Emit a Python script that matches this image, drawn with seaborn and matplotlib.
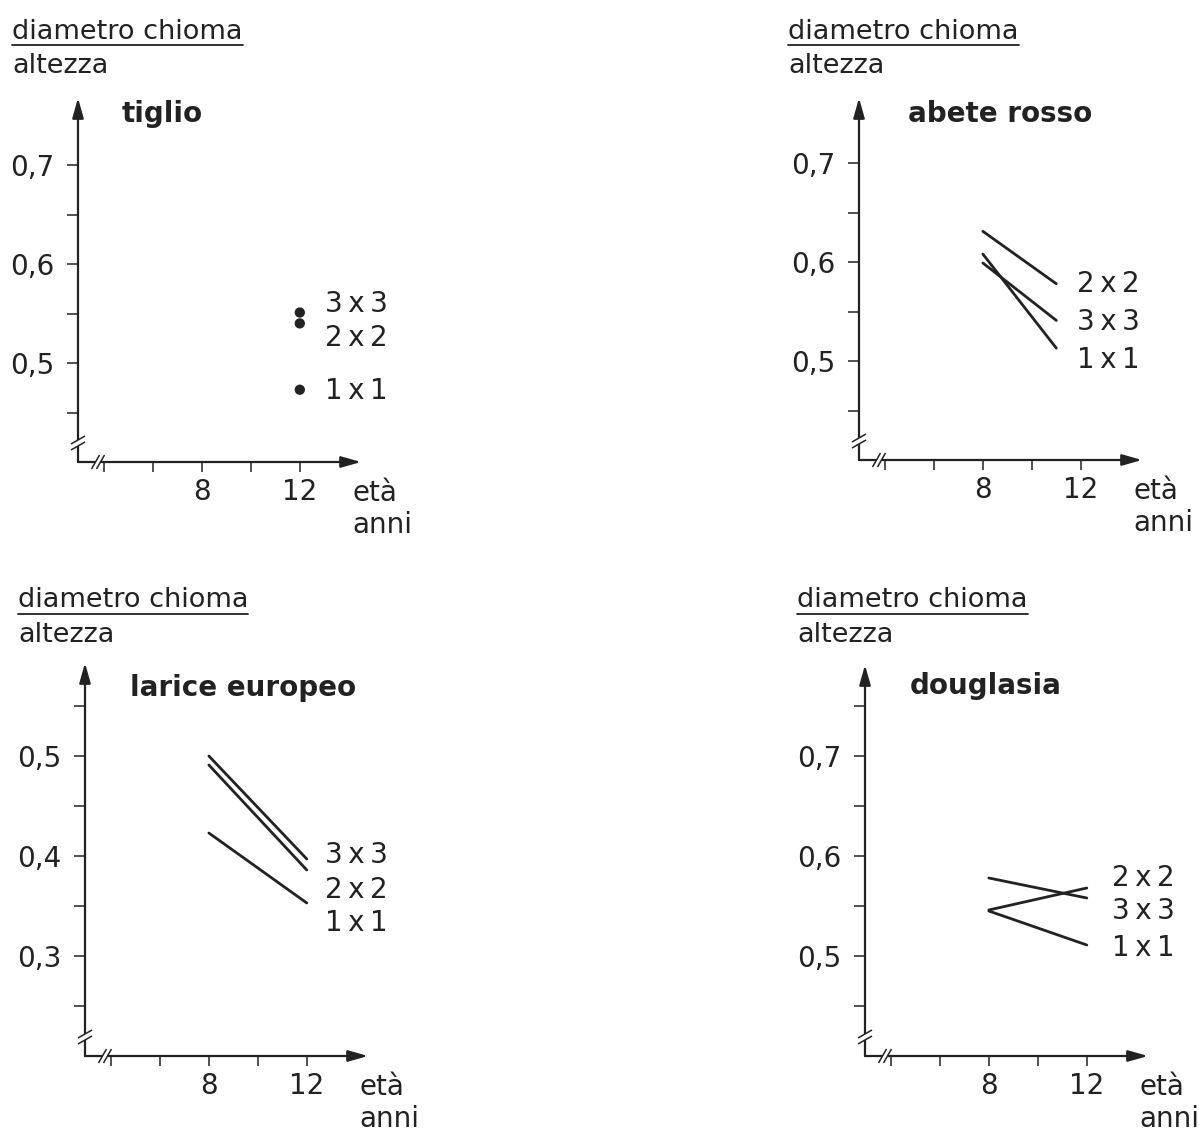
import matplotlib

matplotlib.use("Agg")
import matplotlib.pyplot as plt
import numpy as np
import pandas as pd
import seaborn as sns
from matplotlib.lines import Line2D

W, H, DPI = 1199, 1131, 100

# ----------------------------------------------------------------------------- data
TIGLIO_ETA = [12, 12, 12]
TIGLIO_SPACING = ["3x3", "2x2", "1x1"]
TIGLIO_RATIO = [0.551, 0.540, 0.473]

ABETE_ETA = [8, 11, 8, 11, 8, 11]
ABETE_SPACING = ["2x2", "2x2", "3x3", "3x3", "1x1", "1x1"]
ABETE_RATIO = [0.631, 0.578, 0.599, 0.541, 0.608, 0.513]

LARICE_ETA = [8, 12, 8, 12, 8, 12]
LARICE_SPACING = ["3x3", "3x3", "2x2", "2x2", "1x1", "1x1"]
LARICE_RATIO = [0.500, 0.397, 0.491, 0.386, 0.423, 0.353]

DOUGLASIA_ETA = [8, 12, 8, 12, 8, 12]
DOUGLASIA_SPACING = ["3x3", "3x3", "2x2", "2x2", "1x1", "1x1"]
DOUGLASIA_RATIO = [0.578, 0.558, 0.546, 0.568, 0.545, 0.511]

X_TICKS = [4, 6, 8, 10, 12]
X_TICK_LABELS = ["", "", "8", "", "12"]

HEADER = "diametro chioma"
HEADER_BELOW = "altezza"

# ----------------------------------------------------------------------------- layout (pixels)
XLIM = (2.94, 14.5)
BOX_W = 283
PANELS = [
    dict(title="tiglio", kind="scatter", eta=TIGLIO_ETA, spacing=TIGLIO_SPACING, ratio=TIGLIO_RATIO,
         left=78, top=98, bottom=462, y0=0.4, ppu=990, yticks=(0.45, 0.70),
         head=(12, 39, 45), title_xy=(122, 122),
         lab_x=13.02, labels=[("3x3", 0.563), ("2x2", 0.528), ("1x1", 0.475)]),
    dict(title="abete rosso", kind="line", eta=ABETE_ETA, spacing=ABETE_SPACING, ratio=ABETE_RATIO,
         left=859, top=98, bottom=460, y0=0.4, ppu=990, yticks=(0.45, 0.70),
         head=(788, 39, 45), title_xy=(908, 122),
         lab_x=11.84, labels=[("2x2", 0.581), ("3x3", 0.542), ("1x1", 0.504)]),
    dict(title="larice europeo", kind="line", eta=LARICE_ETA, spacing=LARICE_SPACING, ratio=LARICE_RATIO,
         left=85, top=663, bottom=1056, y0=0.2, ppu=1000, yticks=(0.25, 0.55),
         head=(18, 607, 614), title_xy=(130, 696),
         lab_x=12.74, labels=[("3x3", 0.404), ("2x2", 0.369), ("1x1", 0.336)]),
    dict(title="douglasia", kind="line", eta=DOUGLASIA_ETA, spacing=DOUGLASIA_SPACING, ratio=DOUGLASIA_RATIO,
         left=865, top=665, bottom=1056, y0=0.4, ppu=1000, yticks=(0.45, 0.75),
         head=(797, 607, 614), title_xy=(910, 694),
         lab_x=13.02, labels=[("2x2", 0.581), ("3x3", 0.548), ("1x1", 0.511)]),
]

sns.set_theme(style="ticks")
plt.rcParams["font.family"] = ["DejaVu Sans"]

FS_NUM = 20
FS_HEAD = 19.5
FS_TITLE = 20
LW = 1.6
INK = "#222222"


def fig_text(fig, x, y, s, **kw):
    """Place text at figure pixel coords (origin top-left)."""
    return fig.text(x / W, 1 - y / H, s, **kw)


def pretty(label):
    return label.replace("x", "\u2009x\u2009")


def draw_axes_frame(ax, bw, bh):
    arrow = dict(arrowstyle="-|>,head_length=0.6,head_width=0.17", color=INK, lw=LW,
                 shrinkA=0, shrinkB=0, mutation_scale=20)
    ax.annotate("", xy=(0, 1), xytext=(0, 0), xycoords="axes fraction", arrowprops=arrow)
    ax.annotate("", xy=(1, 0), xytext=(0, 0), xycoords="axes fraction", arrowprops=arrow)
    kw = dict(transform=ax.transAxes, clip_on=False, solid_capstyle="butt")
    # break on the y axis
    yb = 19 / bh
    ax.plot([0, 0], [yb - 3 / bh, yb + 3 / bh], color="white", lw=3, zorder=5, **kw)
    for d in (-3, 3):
        ax.plot([-7 / bw, 7 / bw], [yb + (d - 4) / bh, yb + (d + 4) / bh], color=INK, lw=1.1, zorder=6, **kw)
    # break on the x axis
    xb = 20 / bw
    ax.plot([xb - 3 / bw, xb + 3 / bw], [0, 0], color="white", lw=3, zorder=5, **kw)
    for d in (-2.5, 2.5):
        ax.plot([xb + (d - 4) / bw, xb + (d + 4) / bw], [-7 / bh, 7 / bh], color=INK, lw=1.1, zorder=6, **kw)


fig = plt.figure(figsize=(W / DPI, H / DPI), dpi=DPI)
fig.patch.set_facecolor("white")

underlines = []
for p in PANELS:
    bh = p["bottom"] - p["top"]
    ax = fig.add_axes([p["left"] / W, 1 - p["bottom"] / H, BOX_W / W, bh / H])
    ax.set_facecolor("none")
    df = pd.DataFrame({"eta": p["eta"], "spacing": p["spacing"], "ratio": p["ratio"]})
    if p["kind"] == "scatter":
        sns.scatterplot(data=df, x="eta", y="ratio", color=INK, s=55, edgecolor="none",
                        legend=False, ax=ax, clip_on=False)
    else:
        sns.lineplot(data=df, x="eta", y="ratio", hue="spacing",
                     palette={s: INK for s in df["spacing"].unique()},
                     estimator=None, lw=LW * 1.25, legend=False, ax=ax)
    ax.set_xlim(*XLIM)
    ax.set_ylim(p["y0"], p["y0"] + bh / p["ppu"])
    ax.set_xlabel("")
    ax.set_ylabel("")
    for sp in ax.spines.values():
        sp.set_visible(False)

    lo, hi = p["yticks"]
    yt = np.round(np.arange(lo, hi + 0.001, 0.05), 2)
    ax.set_yticks(yt)
    ax.set_yticklabels([f"{v:.1f}".replace(".", ",") if round(v * 100) % 10 == 0 else "" for v in yt])
    ax.set_xticks(X_TICKS)
    ax.set_xticklabels(X_TICK_LABELS)
    ax.tick_params(axis="y", direction="out", length=8, width=1.1, color=INK, pad=9,
                   labelsize=FS_NUM, labelcolor=INK)
    ax.tick_params(axis="x", direction="out", length=7.5, width=1.1, color=INK, pad=4,
                   labelsize=FS_NUM, labelcolor=INK)

    draw_axes_frame(ax, BOX_W, bh)

    # series labels at the right of the marks
    for lab, yv in p["labels"]:
        ax.text(p["lab_x"], yv, pretty(lab), fontsize=FS_NUM, color=INK,
                ha="left", va="center_baseline", clip_on=False)

    # x axis name
    ax.annotate("età", xy=(14.16, 0), xycoords=("data", "axes fraction"), xytext=(0, -28),
                textcoords="offset pixels", fontsize=FS_NUM, ha="left", va="center_baseline", color=INK)
    ax.annotate("anni", xy=(14.16, 0), xycoords=("data", "axes fraction"), xytext=(0, -60),
                textcoords="offset pixels", fontsize=FS_NUM, ha="left", va="center_baseline", color=INK)

    # title and fraction header
    fig_text(fig, *p["title_xy"], p["title"], fontsize=FS_TITLE, fontweight="bold",
             ha="left", va="baseline", color=INK)
    hx, hy, uy = p["head"]
    t = fig_text(fig, hx, hy, HEADER, fontsize=FS_HEAD, ha="left", va="baseline", color=INK)
    fig_text(fig, hx, uy + 28, HEADER_BELOW, fontsize=FS_HEAD, ha="left", va="baseline", color=INK)
    underlines.append((t, uy))

fig.canvas.draw()
renderer = fig.canvas.get_renderer()
for t, uy in underlines:
    bb = t.get_window_extent(renderer)
    fig.add_artist(Line2D([bb.x0 / W, bb.x1 / W], [1 - uy / H, 1 - uy / H],
                          transform=fig.transFigure, color=INK, lw=1.3))

fig.savefig("out.png", dpi=DPI, facecolor="white")
